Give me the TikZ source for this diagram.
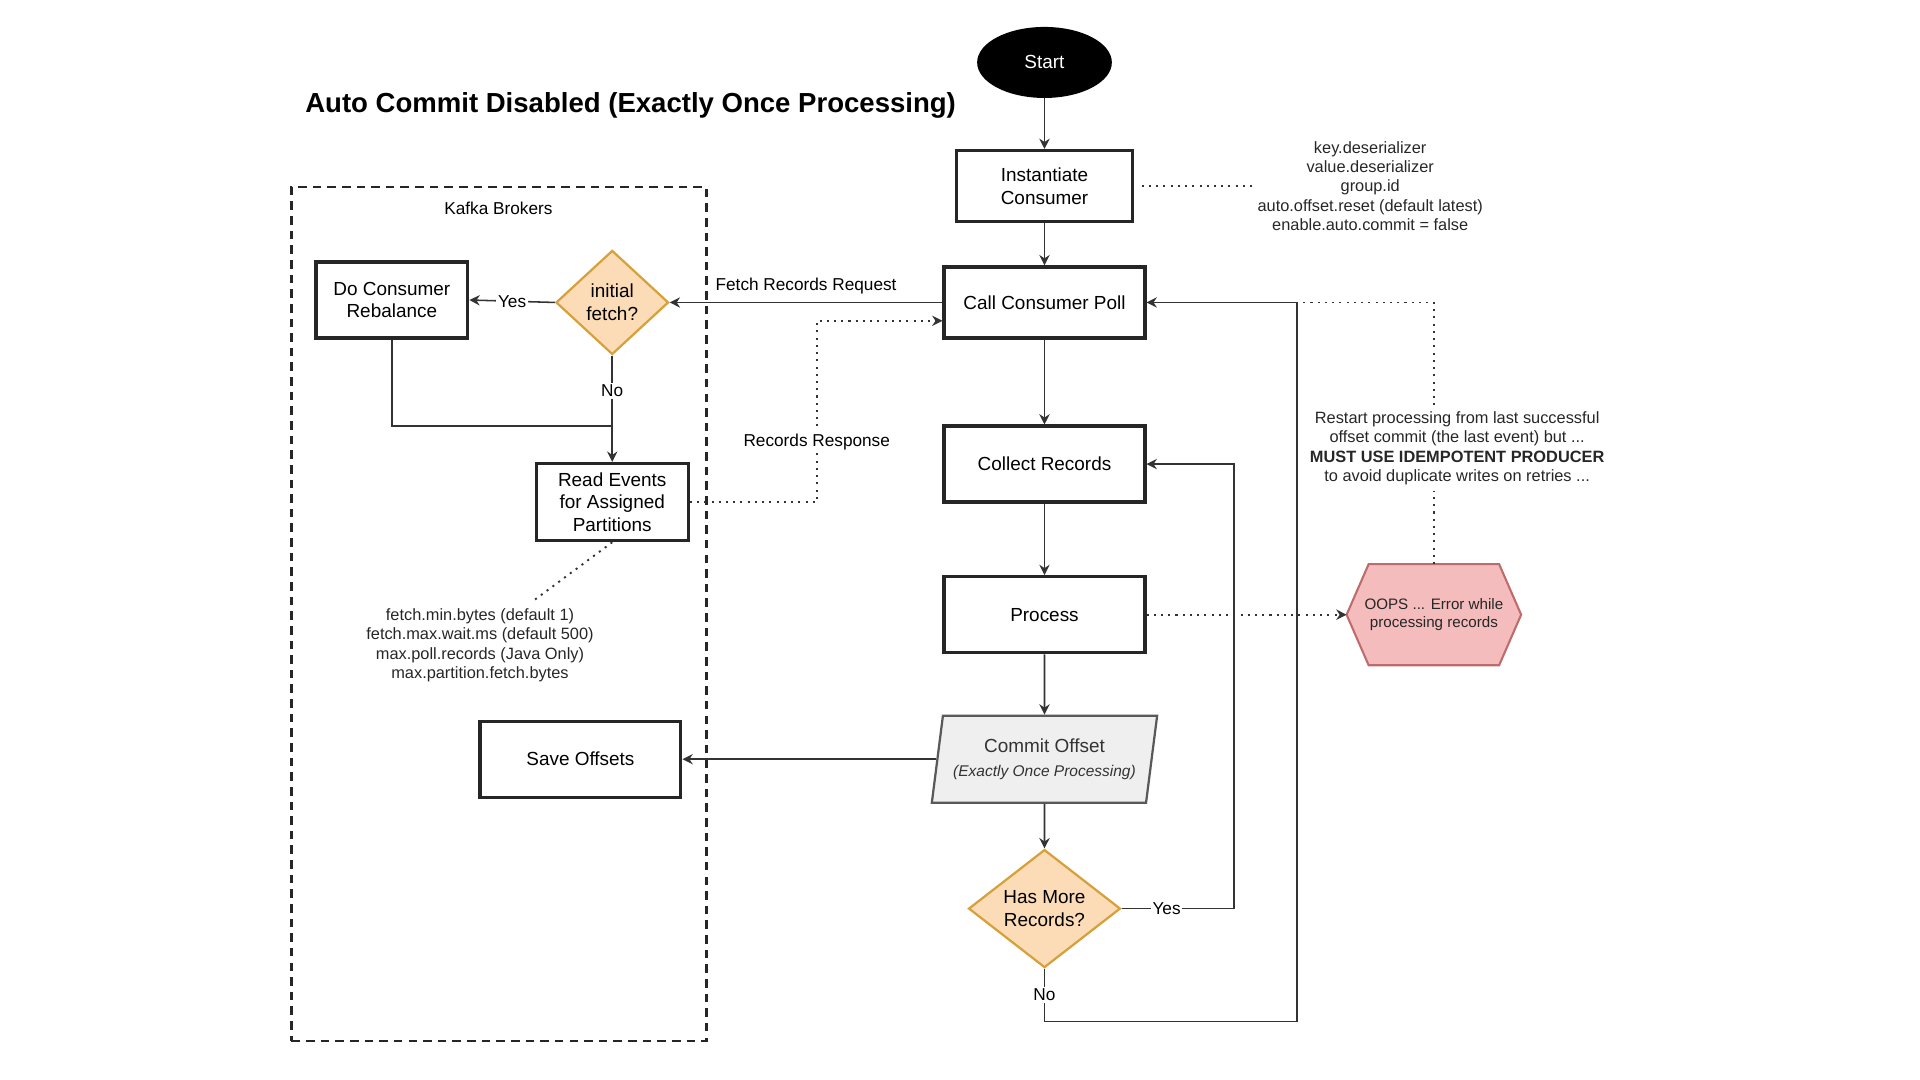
\documentclass[tikz,border=0pt]{standalone}
\usepackage{fontspec}
\setmainfont{Liberation Sans}
\usetikzlibrary{shapes.geometric, arrows.meta, backgrounds}

\definecolor{decfill}{HTML}{FCDCB6}
\definecolor{decline}{HTML}{D6A03A}
\definecolor{oopsfill}{HTML}{F4BCBC}
\definecolor{oopsline}{HTML}{BE6B6B}
\definecolor{commitfill}{HTML}{EFEFEF}
\newcommand{\px}{0.025cm}

\begin{document}
\begin{tikzpicture}[x=\px, y=-\px,
    box/.style={draw=black!85, line width=1.9pt, fill=white, align=center,
        minimum width=164*\px, minimum height=62*\px, inner sep=2pt,
        font=\fontsize{11}{13.2}\selectfont},
    decision/.style={diamond, draw=decline, line width=1.3pt, fill=decfill,
        align=center, inner sep=0pt, font=\fontsize{11}{13.2}\selectfont},
    link/.style={draw=black!80, line width=0.9pt, -{Stealth[length=6pt, width=6pt]}},
    wire/.style={draw=black!80, line width=0.9pt},
    dots/.style={draw=black!80, line width=1.1pt, dash pattern=on 1.2pt off 3pt},
    note/.style={align=center, text=black!85, font=\fontsize{9.5}{11.3}\selectfont},
    lbl/.style={fill=white, inner sep=1pt, font=\fontsize{10}{12}\selectfont}]
    \useasboundingbox (0,0) rectangle (1568,882);

    % title
    \node[font=\fontsize{16}{19}\bfseries\selectfont] (title) at (515,86)
        {Auto Commit Disabled (Exactly Once Processing)};

    % consumer side
    \node[ellipse, fill=black, text=white, minimum width=110*\px, minimum height=58*\px,
        font=\fontsize{11}{13.2}\selectfont] (start) at (853,51) {Start};
    \node[box, minimum width=144*\px, minimum height=58*\px] (inst) at (853,152) {Instantiate\\Consumer};
    \node[note] (cfg) at (1119,152) {key.deserializer\\value.deserializer\\group.id\\auto.offset.reset (default latest)\\enable.auto.commit = false};
    \node[box, minimum height=58*\px] (poll) at (853,247) {Call Consumer Poll};
    \node[box] (collect) at (853,379) {Collect Records};
    \node[box] (process) at (853,502) {Process};
    \node[trapezium, trapezium left angle=76, trapezium right angle=104, trapezium stretches body,
        draw=black!65, line width=1.3pt, fill=commitfill, text=black!80, align=center,
        minimum width=184*\px, minimum height=71*\px, inner sep=1pt,
        font=\fontsize{11}{14}\selectfont] (commit) at (853,620)
        {Commit Offset\\{\fontsize{9}{11}\itshape\selectfont (Exactly Once Processing)}};
    \node[decision, minimum width=124*\px, minimum height=88*\px] (more) at (853,742) {Has More\\Records?};

    % error branch
    \node[minimum width=142*\px, minimum height=82*\px, inner sep=0pt, align=center,
        text=black!85, font=\fontsize{8.8}{10.5}\selectfont] (oops) at (1171,502)
        {OOPS ... Error while\\processing records};
    \begin{scope}[on background layer]
        \filldraw[fill=oopsfill, draw=oopsline, line width=1.2pt] (oops.west)
            -- ([xshift=18*\px]oops.north west) -- ([xshift=-18*\px]oops.north east) -- (oops.east)
            -- ([xshift=-18*\px]oops.south east) -- ([xshift=18*\px]oops.south west) -- cycle;
    \end{scope}
    \node[note] (restart) at (1190,366) {Restart processing from last successful\\offset commit (the last event) but ...\\\textbf{MUST USE IDEMPOTENT PRODUCER}\\to avoid duplicate writes on retries ...};

    % broker side
    \node[draw=black!85, line width=1.3pt, dash pattern=on 5pt off 3.5pt,
        minimum width=339*\px, minimum height=697*\px] (brokers) at (407.5,501.5) {};
    \node[font=\fontsize{10}{12}\selectfont] (kafka) at (407,170) {Kafka Brokers};
    \node[decision, minimum width=92*\px, minimum height=85*\px] (initial) at (500,247) {initial\\fetch?};
    \node[box, minimum width=124*\px] (rebal) at (320,245) {Do Consumer\\Rebalance};
    \node[box, minimum width=124*\px, minimum height=63*\px] (read) at (500,410) {Read Events\\for Assigned\\Partitions};
    \node[note] (fetchcfg) at (392,527) {fetch.min.bytes (default 1)\\fetch.max.wait.ms (default 500)\\max.poll.records (Java Only)\\max.partition.fetch.bytes};
    \node[box, minimum width=164*\px] (save) at (474,620) {Save Offsets};

    % main flow
    \draw[link] (start) -- (inst);
    \draw[link] (inst) -- (poll);
    \draw[link] (poll) -- (collect);
    \draw[link] (collect) -- (process);
    \draw[link] (process) -- (commit);
    \draw[link] (commit) -- (more);
    \draw[link] (more.east) -- node[lbl, pos=0.4] {Yes} ++(92,0) |- (collect.east);
    \draw[link] (more.south) -- node[lbl] {No} ++(0,43) -| ([xshift=123*\px]poll.east) -- (poll.east);
    \draw[link] (commit.west) -- (commit.west -| save.east);

    % dotted notes
    \draw[dots, shorten <=6*\px] (inst.east) -- (cfg.west);
    \draw[dots, -{Stealth[length=6pt, width=6pt]}] (process.east) -- (oops.west);
    \draw[dots] (oops.north) -- (oops.north |- restart.south);
    \draw[dots] (restart.north -| oops.north) |- ([xshift=123*\px]poll.east);
    \draw[dots] (read.south) -- (fetchcfg.40);

    % fetch loop
    \draw[link] (poll.west) -- node[above=1pt, font=\fontsize{10}{12}\selectfont] {Fetch Records Request} (initial.east);
    \draw[link] (initial.west) -- node[lbl] {Yes} (rebal.east);
    \draw[wire] (initial.south) -- node[lbl] {No} (initial.south |- 0,348);
    \draw[link] (initial.south |- 0,348) -- (read.north);
    \draw[wire] (rebal.south) |- (initial.south |- 0,348);
    \draw[dots, -{Stealth[length=6pt, width=6pt]}] (read.east) -- (667,410)
        -- node[lbl, pos=0.33] {Records Response} (667,262) -- (poll.west |- 0,262);
\end{tikzpicture}
\end{document}
